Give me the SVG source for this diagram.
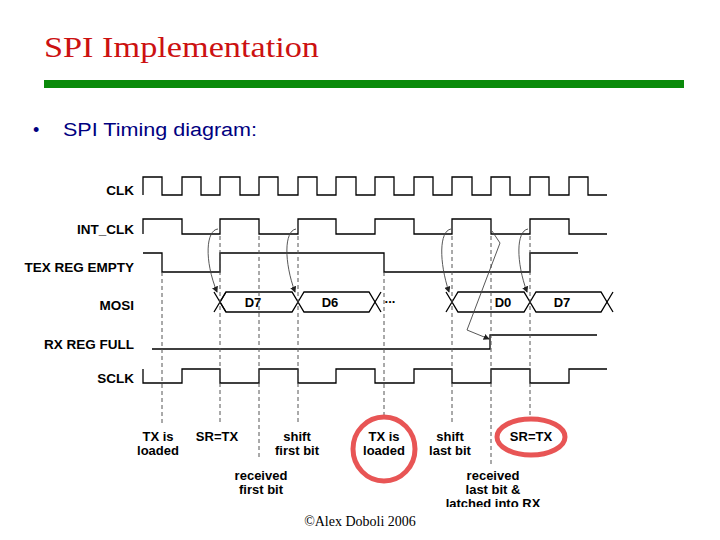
<svg xmlns="http://www.w3.org/2000/svg" width="720" height="540" viewBox="0 0 720 540">
<defs>
<style>
.w{fill:none;stroke:#000;stroke-width:1.3}
.d{fill:none;stroke:#555;stroke-width:1;stroke-dasharray:4,3}
.c{fill:none;stroke:#444;stroke-width:0.9}
.l{font-family:"Liberation Sans",Arial,sans-serif;font-weight:bold;font-size:13.5px;text-anchor:end}
.t{font-family:"Liberation Sans",Arial,sans-serif;font-weight:bold;font-size:13px;text-anchor:middle}
.r{fill:none;stroke:#e85555;stroke-width:5}
</style>
<marker id="a" markerWidth="7" markerHeight="7" refX="6" refY="3.5" orient="auto"><path d="M0,0L7,3.5L0,7z" fill="#222"/></marker>
<clipPath id="cp"><rect x="0" y="0" width="720" height="507"/></clipPath>
</defs>
<rect width="720" height="540" fill="#fff"/>
<text x="44" y="57" font-family="Liberation Serif,serif" font-size="30" fill="#cc1111" textLength="275" lengthAdjust="spacingAndGlyphs">SPI Implementation</text>
<rect x="44" y="80" width="640" height="8" fill="#0a8a0a"/>
<text x="33" y="136" font-family="Liberation Sans,Arial,sans-serif" font-size="18" fill="#000080">•</text>
<text x="63" y="136" font-family="Liberation Sans,Arial,sans-serif" font-size="18" fill="#000080" textLength="194" lengthAdjust="spacingAndGlyphs">SPI Timing diagram:</text>
<g id="labels">
<text class="l" x="134" y="195">CLK</text>
<text class="l" x="134" y="234">INT_CLK</text>
<text class="l" x="134" y="272">TEX REG EMPTY</text>
<text class="l" x="134" y="310">MOSI</text>
<text class="l" x="134" y="349">RX REG FULL</text>
<text class="l" x="134" y="383">SCLK</text>
</g>
<g id="waves">
<path id="clk" class="w" d="M143,195V177H162V195H182V177H201V195H220V177H240V195H259V177H278V195H298V177H317V195H336V177H356V195H375V177H394V195H414V177H433V195H452V177H472V195H491V177H510V195H530V177H549V195H569V177H588V195H607"/>
<path id="intclk" class="w" d="M143,234V219H182V234H220V219H259V234H298V219H336V234H375V219H414V234H452V219H491V234H530V219H569V234H607"/>
<path id="tex" class="w" d="M143,253H162V272H220V253H384V272H530V253H578"/>
<path id="rx" class="w" d="M152,349H490V335H597"/>
<path id="sclk" class="w" d="M143,369V383H182V369H220V383H259V369H298V383H336V369H375V383H414V369H452V383H491V369H530V383H569V369H607"/>
<g id="mosi" class="w">
<path d="M214,292L226,312M214,312L226,292"/>
<path d="M220,302L226,292H292L298,302L292,312H226Z"/>
<path d="M298,302L304,292H369L375,302L369,312H304Z"/>
<path d="M375,302L381,292M375,302L381,312"/>
<path d="M446,292L452,302L446,312"/>
<path d="M452,302L458,292H524L530,302L524,312H458Z"/>
<path d="M530,302L536,292H601L607,302L601,312H536Z"/>
<path d="M607,302L613,292M607,302L613,312"/>
</g>
<text class="t" x="253" y="307">D7</text>
<text class="t" x="330" y="307">D6</text>
<text class="t" x="390" y="303">...</text>
<text class="t" x="503" y="307">D0</text>
<text class="t" x="562" y="307">D7</text>
</g>
<g id="connectors">
<path class="d" d="M162,272V423M220,236V422M259,236V457M298,236V422M384,272V417M452,236V422M491,236V465M530,236V417"/>
<path class="c" marker-end="url(#a)" d="M218,229C206,230 204,260 217,292"/>
<path class="c" marker-end="url(#a)" d="M296,229C284,231 284,262 295,292"/>
<path class="c" marker-end="url(#a)" d="M451,229C439,231 439,262 449,292"/>
<path class="c" marker-end="url(#a)" d="M528,229C516,231 516,262 527,292"/>
<path class="c" marker-end="url(#a)" d="M492,231L500,243L467,330L489,339"/>
</g>
<g id="notes">
<text class="t" x="158" y="441">TX is</text><text class="t" x="158" y="455">loaded</text>
<text class="t" x="217" y="441">SR=TX</text>
<text class="t" x="297" y="441">shift</text><text class="t" x="297" y="455">first bit</text>
<text class="t" x="261" y="480">received</text><text class="t" x="261" y="494">first bit</text>
<text class="t" x="384" y="441">TX is</text><text class="t" x="384" y="455">loaded</text>
<text class="t" x="450" y="441">shift</text><text class="t" x="450" y="455">last bit</text>
<g clip-path="url(#cp)"><text class="t" x="493" y="480">received</text><text class="t" x="493" y="494">last bit &amp;</text><text class="t" x="493" y="508">latched into RX</text></g>
<text class="t" x="531" y="441">SR=TX</text>
<ellipse class="r" cx="384" cy="449" rx="31" ry="32"/>
<ellipse class="r" cx="531" cy="437" rx="34" ry="18"/>
</g>
<text x="360" y="526" font-family="Liberation Serif,serif" font-size="14" text-anchor="middle">©Alex Doboli 2006</text>
</svg>
